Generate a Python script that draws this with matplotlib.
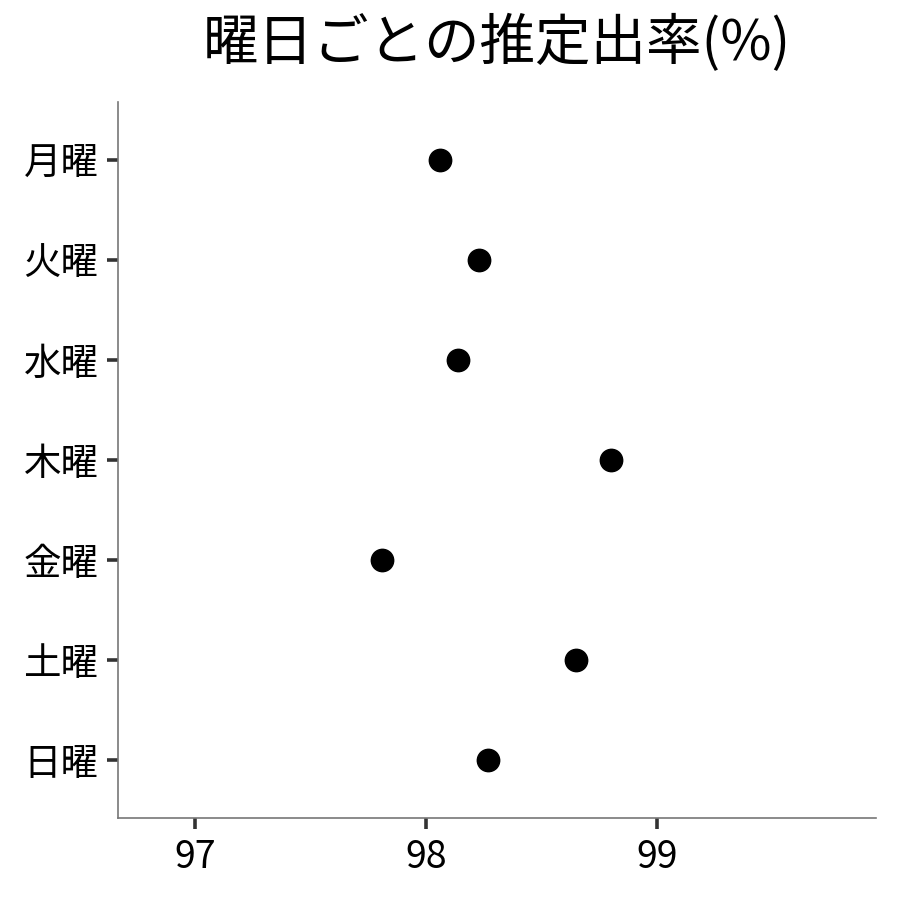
import matplotlib
matplotlib.use("Agg")
import matplotlib.pyplot as plt

plt.rcParams['font.family'] = ['Noto Sans CJK JP', 'DejaVu Sans']

days = ['月曜', '火曜', '水曜', '木曜', '金曜', '土曜', '日曜']
rates = [98.06, 98.23, 98.14, 98.80, 97.81, 98.65, 98.27]
xticks = [97, 98, 99]

fig = plt.figure(figsize=(9, 9), dpi=100)
ax = fig.add_axes([0.131, 0.091, 0.842, 0.7957])

ypos = list(range(len(days)))
ax.scatter(rates, ypos, s=260, color='black', zorder=3)

ax.set_yticks(ypos)
ax.set_yticklabels(days)
ax.set_xticks(xticks)
ax.set_xticklabels([str(v) for v in xticks])
ax.set_xlim(96.667, 99.948)
ax.set_ylim(6.58, -0.58)

for s in ['top', 'right']:
    ax.spines[s].set_visible(False)
for s in ['left', 'bottom']:
    ax.spines[s].set_color('#777777')
    ax.spines[s].set_linewidth(1.2)
ax.tick_params(axis='both', labelsize=27, colors='#333333', width=2.6, length=8,
               labelcolor='black', pad=6)

ax.set_title('曜日ごとの推定出率(%)', fontsize=40, pad=30)

fig.savefig('out.png', dpi=100)
